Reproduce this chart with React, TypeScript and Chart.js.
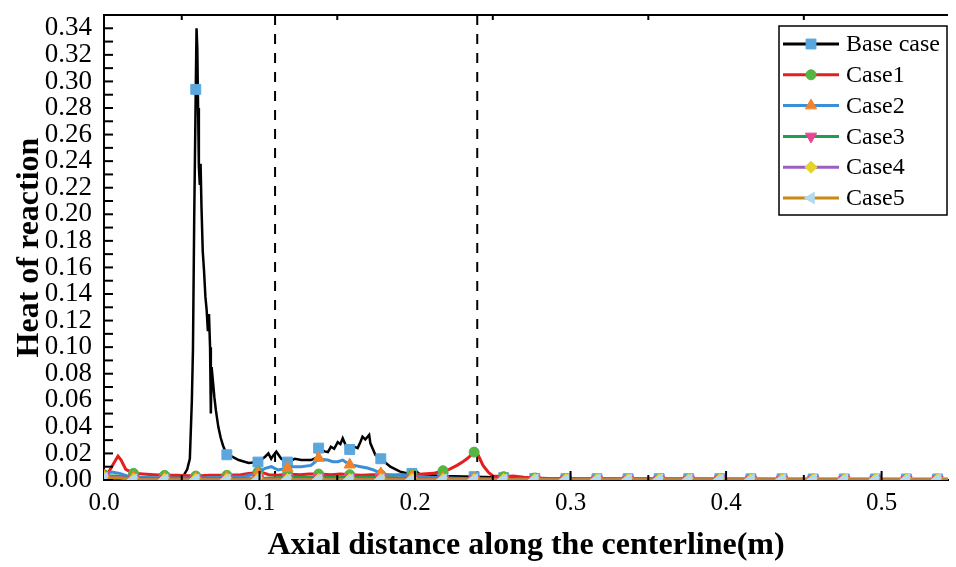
import React, { useEffect, useRef } from "react";
import { Chart, registerables } from "chart.js";
import { drawPoint } from "chart.js/helpers";

Chart.register(...registerables);

// ---------- axes ----------
const X_MIN = 0;
const X_MAX = 0.5427;
const Y_MIN = 0;
const Y_MAX = 0.35;
const X_TICKS = [0, 0.1, 0.2, 0.3, 0.4, 0.5];
const X_TICK_LABELS = ["0.0", "0.1", "0.2", "0.3", "0.4", "0.5"];
const Y_TICKS = [0, 0.02, 0.04, 0.06, 0.08, 0.1, 0.12, 0.14, 0.16, 0.18, 0.2, 0.22, 0.24, 0.26, 0.28, 0.3, 0.32, 0.34];
const Y_TICK_LABELS = ["0.00", "0.02", "0.04", "0.06", "0.08", "0.10", "0.12", "0.14", "0.16", "0.18", "0.20", "0.22", "0.24", "0.26", "0.28", "0.30", "0.32", "0.34"];
const X_TITLE = "Axial distance along the centerline(m)";
const Y_TITLE = "Heat of reaction";
const DASHED_X = [0.11, 0.24];

// ---------- series ----------
const SERIES_NAMES = ["Base case", "Case1", "Case2", "Case3", "Case4", "Case5"];

const MARKER_X = [0.0, 0.019, 0.039, 0.059, 0.079, 0.099, 0.118, 0.138, 0.158, 0.178, 0.198, 0.218, 0.238, 0.257, 0.277, 0.297, 0.317, 0.337, 0.357, 0.376, 0.396, 0.416, 0.436, 0.456, 0.476, 0.496, 0.516, 0.536];

const BASE_CASE: [number, number][] = [
  [0.0, 0.002], [0.01, 0.002], [0.019, 0.0015], [0.03, 0.0015], [0.039, 0.0015], [0.047, 0.0018],
  [0.051, 0.003], [0.0535, 0.008], [0.0552, 0.016], [0.0565, 0.06], [0.0572, 0.098], [0.058, 0.196],
  [0.059, 0.294], [0.0595, 0.34], [0.06, 0.325], [0.0605, 0.28], [0.061, 0.236], [0.0616, 0.222],
  [0.0621, 0.238], [0.0627, 0.205], [0.0635, 0.172], [0.0643, 0.158], [0.0652, 0.138], [0.066, 0.128],
  [0.0668, 0.112], [0.0675, 0.125], [0.0682, 0.1], [0.0687, 0.05], [0.0692, 0.085], [0.07, 0.075],
  [0.071, 0.062], [0.072, 0.052], [0.0735, 0.04], [0.075, 0.032], [0.0765, 0.026], [0.079, 0.019],
  [0.0824, 0.0175], [0.0866, 0.015], [0.093, 0.0128], [0.099, 0.0135], [0.1036, 0.0175], [0.1057, 0.02],
  [0.1075, 0.016], [0.1089, 0.0185], [0.1108, 0.0213], [0.114, 0.016], [0.118, 0.0135], [0.1227, 0.016],
  [0.1268, 0.015], [0.1331, 0.015], [0.1372, 0.017], [0.138, 0.024], [0.1418, 0.0215], [0.144, 0.021],
  [0.1459, 0.025], [0.148, 0.0235], [0.1503, 0.0285], [0.152, 0.027], [0.1535, 0.0314], [0.1555, 0.026],
  [0.158, 0.023], [0.16, 0.0255], [0.1631, 0.024], [0.165, 0.029], [0.1662, 0.0326], [0.168, 0.0305],
  [0.1705, 0.034], [0.1713, 0.0276], [0.1745, 0.0188], [0.178, 0.016], [0.1841, 0.01], [0.1904, 0.0063],
  [0.1968, 0.0045], [0.198, 0.005], [0.2, 0.0075], [0.2032, 0.004], [0.218, 0.003], [0.238, 0.0025],
  [0.257, 0.0018], [0.277, 0.0012], [0.297, 0.001], [0.35, 0.001], [0.45, 0.0008], [0.5427, 0.0008],
];
const BASE_MARKS = [0.002, 0.0015, 0.0015, 0.294, 0.019, 0.0135, 0.0135, 0.024, 0.023, 0.016, 0.005, 0.003, 0.0025, 0.0018, 0.0012, 0.001, 0.001, 0.001, 0.001, 0.001, 0.001, 0.0009, 0.0009, 0.0008, 0.0008, 0.0008, 0.0008, 0.0008];

const CASE1: [number, number][] = [
  [0.0, 0.004], [0.003, 0.006], [0.006, 0.012], [0.009, 0.018], [0.011, 0.015], [0.014, 0.008],
  [0.019, 0.005], [0.025, 0.0045], [0.032, 0.004], [0.039, 0.0035], [0.047, 0.0035], [0.059, 0.003],
  [0.068, 0.0035], [0.079, 0.0035], [0.088, 0.004], [0.094, 0.005], [0.099, 0.006], [0.102, 0.0055],
  [0.106, 0.004], [0.112, 0.0035], [0.118, 0.0045], [0.126, 0.004], [0.132, 0.0045], [0.138, 0.0045],
  [0.146, 0.004], [0.152, 0.0045], [0.158, 0.004], [0.166, 0.0035], [0.172, 0.004], [0.178, 0.004],
  [0.186, 0.0035], [0.192, 0.004], [0.198, 0.004], [0.205, 0.0045], [0.212, 0.005], [0.218, 0.007],
  [0.222, 0.008], [0.227, 0.011], [0.231, 0.014], [0.234, 0.0165], [0.238, 0.021], [0.2405, 0.019],
  [0.2437, 0.011], [0.247, 0.006], [0.25, 0.003], [0.257, 0.0025], [0.263, 0.003], [0.27, 0.002],
  [0.277, 0.0015], [0.29, 0.001], [0.31, 0.0005], [0.35, 0.0004], [0.5427, 0.0004],
];
const CASE1_MARKS = [0.004, 0.005, 0.0035, 0.003, 0.0035, 0.006, 0.0045, 0.0045, 0.004, 0.004, 0.004, 0.007, 0.021, 0.0025, 0.0015, 0.001, 0.0005, 0.0004, 0.0004, 0.0004, 0.0004, 0.0004, 0.0004, 0.0004, 0.0004, 0.0004, 0.0004, 0.0004];

const CASE2: [number, number][] = [
  [0.0, 0.005], [0.005, 0.006], [0.01, 0.005], [0.015, 0.003], [0.02, 0.002], [0.04, 0.0015],
  [0.06, 0.0015], [0.08, 0.002], [0.09, 0.0025], [0.095, 0.004], [0.099, 0.0055], [0.1036, 0.0088],
  [0.1076, 0.01], [0.112, 0.0075], [0.118, 0.009], [0.1203, 0.01], [0.1268, 0.01], [0.1331, 0.011],
  [0.136, 0.0138], [0.138, 0.016], [0.1408, 0.0155], [0.1439, 0.015], [0.1471, 0.0138], [0.1503, 0.0138],
  [0.1535, 0.015], [0.158, 0.0115], [0.161, 0.011], [0.165, 0.01], [0.1694, 0.009], [0.1736, 0.0075],
  [0.178, 0.005], [0.182, 0.004], [0.19, 0.0035], [0.198, 0.003], [0.21, 0.002], [0.22, 0.0015],
  [0.24, 0.001], [0.26, 0.0005], [0.5427, 0.0003],
];
const CASE2_MARKS = [0.003, 0.002, 0.0015, 0.0015, 0.002, 0.005, 0.009, 0.0165, 0.0115, 0.005, 0.003, 0.0015, 0.001, 0.0005, 0.0003, 0.0003, 0.0003, 0.0003, 0.0003, 0.0003, 0.0003, 0.0003, 0.0003, 0.0003, 0.0003, 0.0003, 0.0003, 0.0003];

const CASE3: [number, number][] = [
  [0.0, 0.003], [0.008, 0.003], [0.018, 0.0012], [0.06, 0.001], [0.1, 0.0012], [0.12, 0.002],
  [0.17, 0.002], [0.2, 0.001], [0.26, 0.0005], [0.5427, 0.0003],
];
const CASE3_MARKS = [0.003, 0.0012, 0.001, 0.001, 0.001, 0.0012, 0.002, 0.002, 0.002, 0.0018, 0.001, 0.0008, 0.0007, 0.0005, 0.0003, 0.0003, 0.0003, 0.0003, 0.0003, 0.0003, 0.0003, 0.0003, 0.0003, 0.0003, 0.0003, 0.0003, 0.0003, 0.0003];

const CASE4: [number, number][] = [
  [0.0, 0.002], [0.01, 0.002], [0.02, 0.0006], [0.2, 0.0005], [0.5427, 0.0003],
];
const CASE4_MARKS = [0.002, 0.0006, 0.0005, 0.0005, 0.0005, 0.0005, 0.0005, 0.0005, 0.0005, 0.0005, 0.0005, 0.0003, 0.0003, 0.0003, 0.0003, 0.0003, 0.0003, 0.0003, 0.0003, 0.0003, 0.0003, 0.0003, 0.0003, 0.0003, 0.0003, 0.0003, 0.0003, 0.0003];

const CASE5: [number, number][] = [
  [0.0, 0.0015], [0.01, 0.0015], [0.02, 0.0003], [0.5427, 0.0002],
];
const CASE5_MARKS = [0.0015, 0.0003, 0.0003, 0.0003, 0.0003, 0.0003, 0.0003, 0.0003, 0.0003, 0.0003, 0.0003, 0.0003, 0.0003, 0.0003, 0.0003, 0.0003, 0.0003, 0.0003, 0.0003, 0.0003, 0.0003, 0.0003, 0.0003, 0.0003, 0.0003, 0.0003, 0.0003, 0.0003];

const SERIES_LINES = [BASE_CASE, CASE1, CASE2, CASE3, CASE4, CASE5];
const SERIES_MARKS = [BASE_MARKS, CASE1_MARKS, CASE2_MARKS, CASE3_MARKS, CASE4_MARKS, CASE5_MARKS];

// ---------- styles ----------
const LINE_COLORS = ["#000000", "#e3201f", "#3a8fd6", "#1f9e50", "#9b5fc2", "#c98a12"];
const LINE_WIDTHS = [2.5, 3, 3, 3, 3, 3];
const MARK_COLORS = ["#5aa7de", "#55b544", "#f3832a", "#e94592", "#e4d428", "#b3d9f0"];
const MARK_STYLES = ["rect", "circle", "triangle", "triangle", "rectRot", "triangle"];
const MARK_ROTATIONS = [0, 0, 0, 180, 0, 270];
const MARK_RADII = [7, 5, 6.5, 6.5, 6, 6.5];

const FONT = "'Liberation Serif', 'Times New Roman', serif";

const decorPlugin = {
  id: "decor",
  beforeDatasetsDraw(chart: any) {
    const { ctx, chartArea: a, scales } = chart;
    ctx.save();
    ctx.strokeStyle = "#000";
    ctx.lineWidth = 2;
    ctx.setLineDash([10, 9]);
    DASHED_X.forEach((v) => {
      const px = scales.x.getPixelForValue(v);
      ctx.beginPath();
      ctx.moveTo(px, a.top);
      ctx.lineTo(px, a.bottom);
      ctx.stroke();
    });
    ctx.restore();
  },
  afterDatasetsDraw(chart: any) {
    const { ctx, chartArea: a, scales } = chart;
    ctx.save();
    ctx.strokeStyle = "#000";
    ctx.lineWidth = 2;
    // top frame line
    ctx.beginPath();
    ctx.moveTo(a.left - 1, a.top);
    ctx.lineTo(a.right, a.top);
    ctx.stroke();
    // y ticks (inward), every 0.01
    for (let i = 0; i <= 34; i++) {
      const py = scales.y.getPixelForValue(i / 100);
      ctx.beginPath();
      ctx.moveTo(a.left, py);
      ctx.lineTo(a.left + 9, py);
      ctx.stroke();
    }
    // x ticks (inward), every 0.05
    for (let i = 1; i <= 10; i++) {
      const px = scales.x.getPixelForValue(i * 0.05);
      const len = i % 2 === 0 ? 9 : 5;
      ctx.beginPath();
      ctx.moveTo(px, a.bottom);
      ctx.lineTo(px, a.bottom - len);
      ctx.stroke();
      if (i % 2 === 1) {
        ctx.beginPath();
        ctx.moveTo(px, a.top);
        ctx.lineTo(px, a.top + 5);
        ctx.stroke();
      }
    }
    ctx.restore();
  },
  afterDraw(chart: any) {
    const { ctx } = chart;
    const box = { left: 779, top: 26, right: 947, bottom: 215 };
    ctx.save();
    ctx.fillStyle = "#fff";
    ctx.fillRect(box.left, box.top, box.right - box.left, box.bottom - box.top);
    ctx.strokeStyle = "#000";
    ctx.lineWidth = 1.5;
    ctx.strokeRect(box.left, box.top, box.right - box.left, box.bottom - box.top);
    ctx.font = `24px ${FONT}`;
    ctx.textBaseline = "middle";
    ctx.textAlign = "left";
    SERIES_NAMES.forEach((name, i) => {
      const y = 44 + i * 30.8;
      ctx.strokeStyle = LINE_COLORS[i];
      ctx.lineWidth = 3;
      ctx.beginPath();
      ctx.moveTo(783, y);
      ctx.lineTo(839, y);
      ctx.stroke();
      ctx.fillStyle = MARK_COLORS[i];
      ctx.strokeStyle = MARK_COLORS[i];
      ctx.lineWidth = 1;
      drawPoint(ctx, { pointStyle: MARK_STYLES[i] as any, rotation: MARK_ROTATIONS[i], radius: MARK_RADII[i], borderWidth: 1 }, 811, y);
      ctx.fillStyle = "#000";
      ctx.fillText(name, 846, y + 1);
    });
    ctx.restore();
  },
};

export default function App() {
  const ref = useRef<HTMLCanvasElement>(null);
  useEffect(() => {
    const datasets: any[] = [];
    SERIES_NAMES.forEach((name, i) => {
      datasets.push({
        label: name,
        data: SERIES_LINES[i].map(([x, y]) => ({ x, y })),
        showLine: true,
        borderColor: LINE_COLORS[i],
        borderWidth: LINE_WIDTHS[i],
        pointRadius: 0,
        tension: 0,
        order: 20 - i * 2,
      });
      datasets.push({
        label: name + " markers",
        data: MARKER_X.map((x, k) => ({ x, y: SERIES_MARKS[i][k] })),
        showLine: false,
        pointStyle: MARK_STYLES[i],
        rotation: MARK_ROTATIONS[i],
        pointRadius: MARK_RADII[i],
        backgroundColor: MARK_COLORS[i],
        borderColor: MARK_COLORS[i],
        borderWidth: 1,
        clip: 0,
        order: 19 - i * 2,
      });
    });
    const chart = new Chart(ref.current!, {
      type: "scatter",
      data: { datasets },
      options: {
        animation: false,
        responsive: false,
        maintainAspectRatio: false,
        layout: { padding: { top: 15, right: 0, bottom: 0, left: 0 } },
        plugins: { legend: { display: false }, tooltip: { enabled: false } },
        scales: {
          x: {
            type: "linear",
            min: X_MIN,
            max: X_MAX,
            afterBuildTicks: (s: any) => {
              s.ticks = X_TICKS.map((v) => ({ value: v }));
            },
            afterFit: (s: any) => {
              s.height = 87;
              s.paddingLeft = 0;
              s.paddingRight = 0;
            },
            ticks: {
              autoSkip: false,
              maxRotation: 0,
              padding: 8,
              color: "#000",
              font: { family: FONT, size: 25 },
              callback: (v: any) => X_TICK_LABELS[X_TICKS.indexOf(Number(v))] ?? "",
            },
            grid: { display: false, drawTicks: false },
            border: { display: true, color: "#000", width: 2 },
            title: {
              display: true,
              text: X_TITLE,
              color: "#000",
              font: { family: FONT, size: 32, weight: "bold" },
              padding: { top: 0, bottom: 2 },
            },
          },
          y: {
            type: "linear",
            min: Y_MIN,
            max: Y_MAX,
            afterBuildTicks: (s: any) => {
              s.ticks = Y_TICKS.map((v) => ({ value: v }));
            },
            afterFit: (s: any) => {
              s.width = 104;
              s.paddingTop = 0;
              s.paddingBottom = 0;
            },
            ticks: {
              autoSkip: false,
              padding: 12,
              color: "#000",
              font: { family: FONT, size: 27 },
              callback: (v: any) => {
                const idx = Y_TICKS.findIndex((t) => Math.abs(t - Number(v)) < 1e-9);
                return idx >= 0 ? Y_TICK_LABELS[idx] : "";
              },
            },
            grid: { display: false, drawTicks: false },
            border: { display: true, color: "#000", width: 2 },
            title: {
              display: true,
              text: Y_TITLE,
              color: "#000",
              font: { family: FONT, size: 32, weight: "bold" },
              padding: { top: 11, bottom: 0 },
            },
          },
        },
      },
      plugins: [decorPlugin],
    } as any);
    return () => chart.destroy();
  }, []);
  return (
    <div style={{ position: "absolute", left: 0, top: 0, width: 956, height: 567, background: "#fff" }}>
      <canvas ref={ref} width={956} height={567} style={{ width: 956, height: 567, display: "block" }} />
    </div>
  );
}
